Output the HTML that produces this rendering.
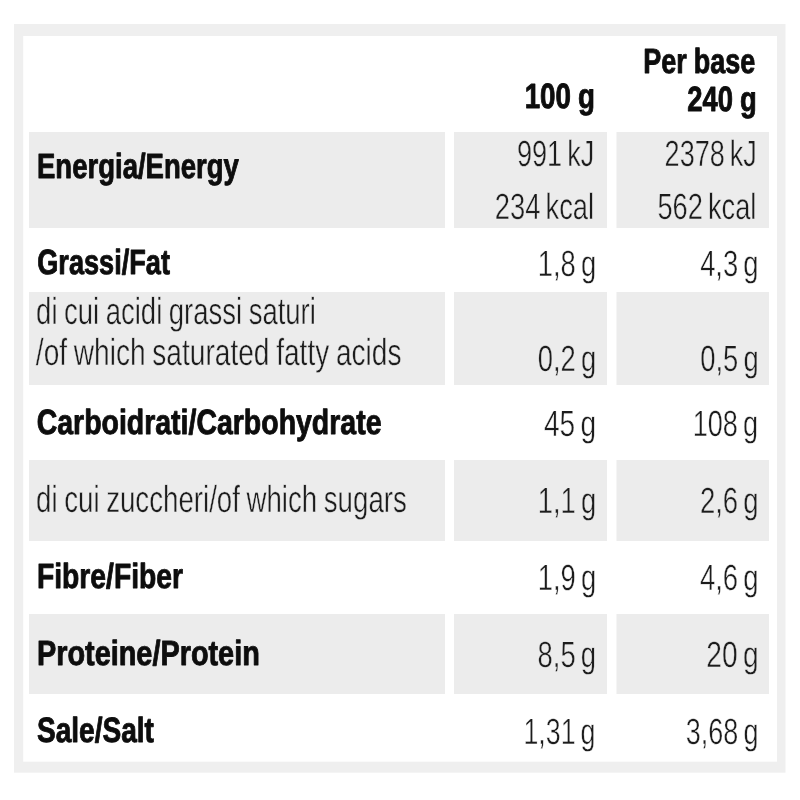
<!DOCTYPE html>
<html lang="it">
<head>
<meta charset="utf-8">
<title>Valori nutrizionali</title>
<style>
html,body{margin:0;padding:0;background:#fff;}
body{width:800px;height:800px;overflow:hidden;font-family:"Liberation Sans",sans-serif;}
svg{display:block;will-change:transform;}
text{font-family:"Liberation Sans",sans-serif;text-rendering:geometricPrecision;vector-effect:non-scaling-stroke;}
.b{font-weight:bold;font-size:35px;fill:#0d0d0d;word-spacing:-0.02em;stroke:#0d0d0d;stroke-width:0.9px;stroke-linejoin:round;}
.r{font-weight:normal;font-size:37.5px;fill:#1c1c1c;word-spacing:-0.04em;}
.v{font-weight:normal;font-size:36.5px;fill:#1c1c1c;word-spacing:-0.09em;}
</style>
</head>
<body>
<svg width="800" height="800" viewBox="0 0 800 800" role="img" aria-label="Tabella valori nutrizionali">
<rect x="0" y="0" width="800" height="800" fill="#ffffff"/>
<rect x="14" y="24" width="771.5" height="748.7" fill="#efefef"/>
<rect x="23.2" y="36" width="753.8" height="725.7" fill="#ffffff"/>
<rect x="29" y="132" width="416" height="96" fill="#ececec"/>
<rect x="454" y="132" width="153" height="96" fill="#ececec"/>
<rect x="616.5" y="132" width="152.5" height="96" fill="#ececec"/>
<rect x="29" y="292" width="416" height="93" fill="#ececec"/>
<rect x="454" y="292" width="153" height="93" fill="#ececec"/>
<rect x="616.5" y="292" width="152.5" height="93" fill="#ececec"/>
<rect x="29" y="460" width="416" height="81" fill="#ececec"/>
<rect x="454" y="460" width="153" height="81" fill="#ececec"/>
<rect x="616.5" y="460" width="152.5" height="81" fill="#ececec"/>
<rect x="29" y="614" width="416" height="80" fill="#ececec"/>
<rect x="454" y="614" width="153" height="80" fill="#ececec"/>
<rect x="616.5" y="614" width="152.5" height="80" fill="#ececec"/>
<text class="b" transform="translate(524.63 108) scale(0.7918 1)">100 g</text>
<text class="b" transform="translate(643.35 73) scale(0.7709 1)">Per base</text>
<text class="b" transform="translate(687.16 111) scale(0.7827 1)">240 g</text>
<text class="b" transform="translate(37.02 178) scale(0.7862 1)">Energia/Energy</text>
<text class="b" transform="translate(37.22 274) scale(0.7756 1)">Grassi/Fat</text>
<text class="r" transform="translate(36.09 324) scale(0.7331 1)" stroke="#ececec" stroke-width="0.45">di cui acidi grassi saturi</text>
<text class="r" transform="translate(35.86 365) scale(0.7493 1)" stroke="#ececec" stroke-width="0.45">/of which saturated fatty acids</text>
<text class="b" transform="translate(36.69 434) scale(0.8132 1)">Carboidrati/Carbohydrate</text>
<text class="r" transform="translate(36.08 512) scale(0.7377 1)" stroke="#ececec" stroke-width="0.45">di cui zuccheri/of which sugars</text>
<text class="b" transform="translate(36.98 588) scale(0.8072 1)">Fibre/Fiber</text>
<text class="b" transform="translate(36.95 665) scale(0.8244 1)">Proteine/Protein</text>
<text class="b" transform="translate(36.91 742) scale(0.8020 1)">Sale/Salt</text>
<text class="v" transform="translate(516.94 166) scale(0.7415 1)" stroke="#ececec" stroke-width="0.45">991 kJ</text>
<text class="v" transform="translate(494.71 219) scale(0.7492 1)" stroke="#ececec" stroke-width="0.45">234 kcal</text>
<text class="v" transform="translate(537.69 276) scale(0.7499 1)" stroke="#ffffff" stroke-width="0.45">1,8 g</text>
<text class="v" transform="translate(537.69 371) scale(0.7499 1)" stroke="#ececec" stroke-width="0.45">0,2 g</text>
<text class="v" transform="translate(543.93 436) scale(0.7692 1)" stroke="#ffffff" stroke-width="0.45">45 g</text>
<text class="v" transform="translate(537.69 513) scale(0.7499 1)" stroke="#ececec" stroke-width="0.45">1,1 g</text>
<text class="v" transform="translate(537.69 590) scale(0.7499 1)" stroke="#ffffff" stroke-width="0.45">1,9 g</text>
<text class="v" transform="translate(537.51 667) scale(0.7523 1)" stroke="#ececec" stroke-width="0.45">8,5 g</text>
<text class="v" transform="translate(523.44 744) scale(0.7331 1)" stroke="#ffffff" stroke-width="0.45">1,31 g</text>
<text class="v" transform="translate(664.62 166) scale(0.7408 1)" stroke="#ececec" stroke-width="0.45">2378 kJ</text>
<text class="v" transform="translate(657.46 219) scale(0.7457 1)" stroke="#ececec" stroke-width="0.45">562 kcal</text>
<text class="v" transform="translate(700.14 276) scale(0.7505 1)" stroke="#ffffff" stroke-width="0.45">4,3 g</text>
<text class="v" transform="translate(700.19 371) scale(0.7499 1)" stroke="#ececec" stroke-width="0.45">0,5 g</text>
<text class="v" transform="translate(692.71 436) scale(0.7417 1)" stroke="#ffffff" stroke-width="0.45">108 g</text>
<text class="v" transform="translate(699.90 513) scale(0.7538 1)" stroke="#ececec" stroke-width="0.45">2,6 g</text>
<text class="v" transform="translate(699.94 590) scale(0.7532 1)" stroke="#ffffff" stroke-width="0.45">4,6 g</text>
<text class="v" transform="translate(706.37 667) scale(0.7701 1)" stroke="#ececec" stroke-width="0.45">20 g</text>
<text class="v" transform="translate(685.82 744) scale(0.7395 1)" stroke="#ffffff" stroke-width="0.45">3,68 g</text>
</svg>
</body>
</html>
